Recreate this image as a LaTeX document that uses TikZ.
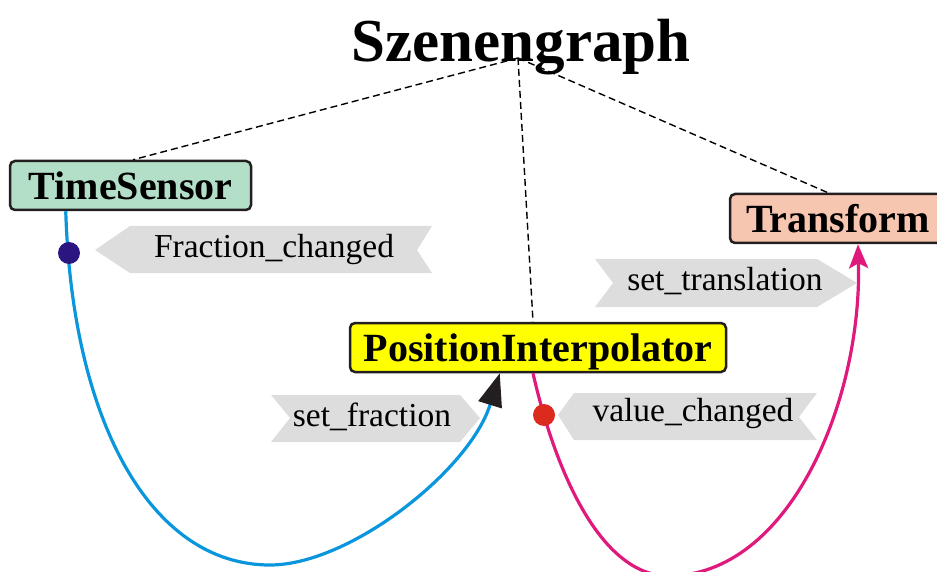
\documentclass[tikz,border=0pt]{standalone}
\usepackage{fontspec}
\setmainfont{Liberation Serif}
\usetikzlibrary{arrows.meta,calc}
\definecolor{tsgreen}{HTML}{B3DFC8}
\definecolor{trsalmon}{HTML}{F7C6B0}
\definecolor{piyellow}{HTML}{FFFF00}
\definecolor{bluec}{HTML}{0A96DC}
\definecolor{magc}{HTML}{E0197D}
\definecolor{dotblue}{HTML}{2B1680}
\definecolor{dotred}{HTML}{DC2A1F}
\definecolor{bannergray}{HTML}{DDDDDD}
\definecolor{boxline}{HTML}{231F20}
\begin{document}
\begin{tikzpicture}[x=1pt,y=-1pt,
  box/.style={draw=boxline, line width=2.5pt, rounded corners=5pt, inner sep=0pt,
    minimum height=49pt, text depth=0pt, font=\fontsize{40}{40}\selectfont\bfseries},
  titlestyle/.style={inner sep=0pt, anchor=base, font=\fontsize{61}{61}\selectfont\bfseries},
  dashline/.style={line width=1.4pt, dash pattern=on 7pt off 4pt},
  banner/.style={fill=bannergray},
  lbl/.style={inner sep=0pt, font=\fontsize{33.5}{33.5}\selectfont},
  dotstyle/.style={circle, inner sep=0pt, minimum size=22pt},
  bluepath/.style={draw=bluec, line width=3.2pt},
  magpath/.style={draw=magc, line width=3.2pt}
]
\useasboundingbox (0,0) rectangle (937,572);

% title and hub
\node[titlestyle] (title) at (521,62) {Szenengraph};
\coordinate (hub) at (518,58);

% boxes
\node[box, fill=tsgreen, minimum width=241pt] (ts) at (130.5,185.5) {TimeSensor};
\node[box, fill=trsalmon, minimum width=216pt] (tr) at (838,218.5) {Transform};
\node[box, fill=piyellow, minimum width=376pt] (pi) at (538,347.5) {PositionInterpolator};

% dashed lines
\draw[dashline] (hub) -- ($(ts.north)+(2.5,0)$);
\draw[dashline] (hub) -- ($(pi.north)+(-5,0)$);
\draw[dashline] (hub) -- ($(tr.north)+(-10,0)$);

% banners
\fill[banner] (95,250) -- (130,226) -- (432,226) -- (417,250) -- (432,273) -- (130,273) -- cycle;
\node[lbl] (fc) at (274,249) {Fraction\_changed};
\fill[banner] (595,259) -- (817,259) -- (857,283) -- (817,307) -- (595,307) -- (613,283) -- cycle;
\node[lbl] (st) at (725,281) {set\_translation};
\fill[banner] (271,395) -- (460,395) -- (480,418) -- (460,442) -- (271,442) -- (290,418) -- cycle;
\node[lbl] (sf) at (372,417) {set\_fraction};
\fill[banner] (558,415) -- (574,393) -- (817,393) -- (799,417) -- (817,440) -- (574,440) -- cycle;
\node[lbl] (vc) at (693,413) {value\_changed};

% blue route
\coordinate (bb) at (270,565);
\draw[bluepath, -{Triangle[length=33pt,width=24pt,color=boxline]}]
  ($(ts.south west)+(57,0)$) .. controls (72,420) and (150,565) .. (bb)
  .. controls (350,565) and (470,470) .. ($(pi.south west)+(151,0)$);
\node[dotstyle, fill=dotblue] (d1) at (69,253) {};

% magenta route
\coordinate (mb) at (668,576);
\draw[magpath, -{Stealth[length=24pt,width=19pt,inset=5pt]}]
  ($(pi.south)+(-5,0)$) .. controls (555,470) and (600,575) .. (mb)
  .. controls (790,576) and (862,400) .. ($(tr.south)+(20,0)$);
\node[dotstyle, fill=dotred] (d2) at (544,415) {};
\end{tikzpicture}
\end{document}
